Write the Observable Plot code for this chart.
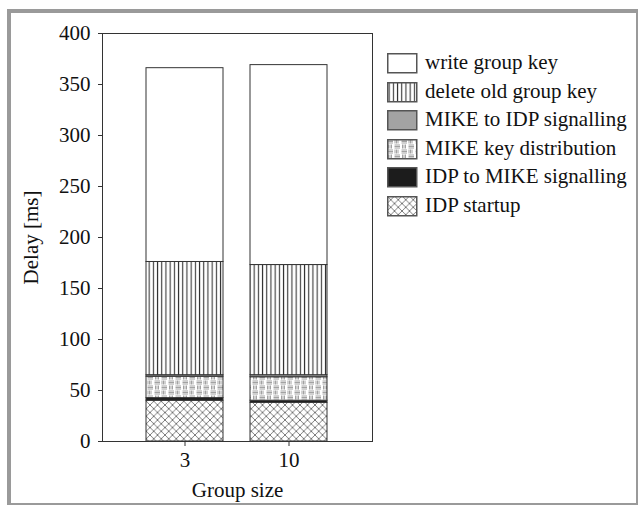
<!DOCTYPE html>
<html><head><meta charset="utf-8">
<script src="https://cdn.jsdelivr.net/npm/d3@7"></script>
<script src="https://cdn.jsdelivr.net/npm/@observablehq/plot@0.6"></script>
<style>
body{margin:0;background:#fff;}
#wrap{position:relative;width:638px;height:505px;overflow:hidden;font-family:"Liberation Serif","Times New Roman",serif;background:#fff;}
#border{position:absolute;left:7px;top:9px;width:631px;height:496px;box-sizing:border-box;border-style:solid;border-color:#9a9a9a;border-width:4px 2px 2px 4px;pointer-events:none;}
#chart{position:absolute;left:0;top:0;}
#legend{position:absolute;left:387px;top:53px;}
.item{position:absolute;left:0;height:20px;white-space:nowrap;}
.item svg{position:absolute;left:0;top:0;}
.item span{position:absolute;left:38px;top:-3px;font-size:21px;line-height:24px;color:#111;}
</style>
</head><body>
<svg width="0" height="0" style="position:absolute">
<defs>
<pattern id="p-write" patternUnits="userSpaceOnUse" width="10" height="10"><rect width="10" height="10" fill="#fff"/></pattern>
<pattern id="p-delete" patternUnits="userSpaceOnUse" width="4.2" height="10"><rect width="4.2" height="10" fill="#fff"/><rect x="1.6" y="0" width="1.1" height="10" fill="#333"/></pattern>
<pattern id="p-m2i" patternUnits="userSpaceOnUse" width="10" height="10"><rect width="10" height="10" fill="#a3a3a3"/></pattern>
<pattern id="p-keydist" patternUnits="userSpaceOnUse" width="14" height="10">
  <rect width="14" height="10" fill="#fff"/>
  <g stroke="#8a8a8a" stroke-width="0.8">
    <line x1="0.5" y1="1" x2="6" y2="1"/><line x1="0.5" y1="2.5" x2="6" y2="2.5"/><line x1="0.5" y1="4" x2="6" y2="4"/>
    <line x1="8" y1="0.5" x2="8" y2="4.5"/><line x1="9.5" y1="0.5" x2="9.5" y2="4.5"/><line x1="11" y1="0.5" x2="11" y2="4.5"/>
    <line x1="1.5" y1="5.5" x2="1.5" y2="9.5"/><line x1="3" y1="5.5" x2="3" y2="9.5"/><line x1="4.5" y1="5.5" x2="4.5" y2="9.5"/>
    <line x1="7.5" y1="6" x2="13" y2="6"/><line x1="7.5" y1="7.5" x2="13" y2="7.5"/><line x1="7.5" y1="9" x2="13" y2="9"/>
  </g>
</pattern>
<pattern id="p-i2m" patternUnits="userSpaceOnUse" width="10" height="10"><rect width="10" height="10" fill="#1c1c1c"/></pattern>
<pattern id="p-startup" patternUnits="userSpaceOnUse" width="7.5" height="7.5">
  <rect width="7.5" height="7.5" fill="#fff"/>
  <g stroke="#6e6e6e" stroke-width="0.9"><line x1="0" y1="0" x2="7.5" y2="7.5"/><line x1="7.5" y1="0" x2="0" y2="7.5"/></g>
</pattern>
</defs>
</svg>
<div id="wrap"><div id="chart"></div><div id="legend"></div><div id="border"></div></div>
<script>
// ---- data ----
const groups = ["3", "10"];
const components = ["IDP startup", "IDP to MIKE signalling", "MIKE key distribution", "MIKE to IDP signalling", "delete old group key", "write group key"];
const patternIds = ["p-startup", "p-i2m", "p-keydist", "p-m2i", "p-delete", "p-write"];
const delayGroup3 = [40, 2.5, 21, 1.5, 111, 190];
const delayGroup10 = [38, 2, 23, 2, 108, 196];
const yTicks = [0, 50, 100, 150, 200, 250, 300, 350, 400];

const values = [delayGroup3, delayGroup10];
const rows = [];
groups.forEach((g, gi) => components.forEach((c, ci) => rows.push({group: g, component: c, delay: values[gi][ci]})));

const chart = Plot.plot({
  width: 638, height: 505,
  marginLeft: 102, marginRight: 266, marginTop: 33, marginBottom: 64,
  style: {fontFamily: '"Liberation Serif","Times New Roman",serif', fontSize: "21px", color: "#111", background: "transparent"},
  x: {domain: groups, paddingInner: 0.257, paddingOuter: 0.42},
  y: {domain: [0, 400]},
  color: {type: "ordinal", domain: components, range: patternIds.map(id => `url(#${id})`)},
  marks: [
    Plot.barY(rows, {x: "group", y: "delay", fill: "component", stroke: "#333", strokeWidth: 1}),
    Plot.frame({stroke: "#333", strokeWidth: 1}),
    Plot.axisY({ticks: yTicks, tickSize: 4, tickPadding: 8, fontSize: 21, label: "Delay [ms]", labelAnchor: "center", labelArrow: "none", labelOffset: 79, stroke: "#333"}),
    Plot.axisX({tickSize: 5, tickPadding: 6, fontSize: 21, label: "Group size", labelAnchor: "center", labelArrow: "none", labelOffset: 55, stroke: "#333"})
  ]
});
document.getElementById("chart").appendChild(chart);

// ---- legend ----
const legend = document.getElementById("legend");
const order = components.map((c, i) => [c, patternIds[i]]).reverse();
order.forEach(([name, id], i) => {
  const item = document.createElement("div");
  item.className = "item";
  item.style.top = (i * 28.6) + "px";
  item.innerHTML = `<svg width="31" height="21"><rect x="0.75" y="0.75" width="29" height="19" fill="url(#${id})" stroke="#555" stroke-width="1.5"/></svg><span>${name}</span>`;
  legend.appendChild(item);
});
</script>
</body></html>
